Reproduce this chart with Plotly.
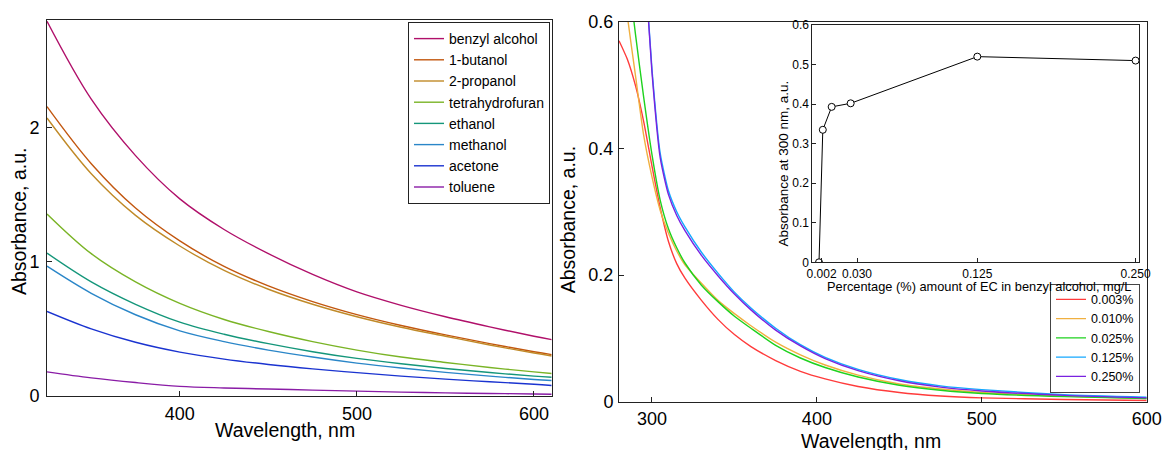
import plotly.graph_objects as go

# ---------------- Left panel: solvents ----------------
wl_solvents = [325, 350, 375, 400, 425, 450, 475, 500, 525, 550, 575, 600, 610]
solvent_names = ["benzyl alcohol", "1-butanol", "2-propanol", "tetrahydrofuran",
                 "ethanol", "methanol", "acetone", "toluene"]
benzyl_alcohol = [2.79, 2.21, 1.79, 1.468, 1.24, 1.06, 0.905, 0.775, 0.675, 0.59, 0.515, 0.445, 0.42]
butanol_1 = [2.155, 1.73, 1.40, 1.155, 0.965, 0.82, 0.703, 0.606, 0.525, 0.455, 0.39, 0.33, 0.308]
propanol_2 = [2.07, 1.655, 1.345, 1.117, 0.935, 0.795, 0.683, 0.59, 0.512, 0.445, 0.38, 0.32, 0.298]
tetrahydrofuran = [1.356, 1.06, 0.85, 0.69, 0.57, 0.48, 0.405, 0.342, 0.29, 0.25, 0.212, 0.18, 0.168]
ethanol = [1.064, 0.85, 0.683, 0.55, 0.46, 0.39, 0.33, 0.28, 0.24, 0.205, 0.175, 0.148, 0.14]
methanol = [0.967, 0.765, 0.605, 0.485, 0.405, 0.342, 0.29, 0.245, 0.208, 0.176, 0.148, 0.123, 0.115]
acetone = [0.63, 0.50, 0.40, 0.327, 0.275, 0.235, 0.202, 0.174, 0.148, 0.126, 0.106, 0.088, 0.078]
toluene = [0.18, 0.135, 0.10, 0.072, 0.06, 0.052, 0.044, 0.036, 0.029, 0.023, 0.019, 0.015, 0.013]
solvent_values = [benzyl_alcohol, butanol_1, propanol_2, tetrahydrofuran,
                  ethanol, methanol, acetone, toluene]
solvent_colors = ["#B0106A", "#C2570F", "#C08A28", "#7AB426",
                  "#14967A", "#2A86C8", "#1A33D0", "#8A1CA6"]

# ---------------- Right panel: EC concentrations ----------------
wl_ec = [280, 285, 290, 295, 300, 305, 310, 315, 320, 330, 340, 350, 360, 375,
         390, 405, 425, 450, 475, 500, 550, 600]
ec_names = ["0.003%", "0.010%", "0.025%", "0.125%", "0.250%"]
ec_003 = [0.570, 0.541, 0.499, 0.442, 0.372, 0.306, 0.253, 0.218, 0.195, 0.160, 0.130, 0.106,
          0.087, 0.065, 0.048, 0.036, 0.024, 0.0145, 0.009, 0.006, 0.0035, 0.002]
ec_010 = [0.72, 0.61, 0.515, 0.42, 0.355, 0.302, 0.266, 0.238, 0.216, 0.187, 0.160, 0.139,
          0.120, 0.094, 0.074, 0.058, 0.042, 0.028, 0.020, 0.0145, 0.009, 0.005]
ec_025 = [0.82, 0.69, 0.58, 0.48, 0.39, 0.318, 0.273, 0.243, 0.219, 0.184, 0.158, 0.135,
          0.116, 0.089, 0.069, 0.054, 0.039, 0.026, 0.018, 0.013, 0.008, 0.005]
ec_125 = [1.5, 1.2, 0.95, 0.72, 0.525, 0.392, 0.333, 0.300, 0.276, 0.236, 0.203, 0.173,
          0.148, 0.116, 0.090, 0.070, 0.051, 0.035, 0.025, 0.019, 0.011, 0.007]
ec_250 = [1.5, 1.2, 0.95, 0.72, 0.52, 0.385, 0.327, 0.294, 0.270, 0.231, 0.199, 0.170,
          0.145, 0.113, 0.088, 0.068, 0.049, 0.033, 0.023, 0.017, 0.010, 0.006]
ec_values = [ec_003, ec_010, ec_025, ec_125, ec_250]
ec_colors = ["#FF3B3B", "#F0B040", "#1ED21E", "#14A8FF", "#7A22E0"]

# ---------------- Inset ----------------
ec_percent = [0.0, 0.003, 0.010, 0.025, 0.125, 0.250]
abs_300nm = [0.0, 0.335, 0.393, 0.402, 0.520, 0.510]
inset_ticks = [0.002, 0.030, 0.125, 0.250]
inset_ticktext = ["0.002", "0.030", "0.125", "0.250"]

FONT = "Liberation Sans, Arial, sans-serif"
W, H = 1163, 450

fig = go.Figure()

for name, vals, col in zip(solvent_names, solvent_values, solvent_colors):
    fig.add_trace(go.Scatter(x=wl_solvents, y=vals, name=name, mode="lines",
                             line=dict(color=col, width=1.4, shape="spline", smoothing=1.0),
                             xaxis="x", yaxis="y", legend="legend"))

for name, vals, col in zip(ec_names, ec_values, ec_colors):
    fig.add_trace(go.Scatter(x=wl_ec, y=vals, name=name, mode="lines",
                             line=dict(color=col, width=1.4, shape="spline", smoothing=0.6),
                             xaxis="x2", yaxis="y2", legend="legend2"))

fig.add_trace(go.Scatter(x=ec_percent, y=abs_300nm, mode="lines+markers", showlegend=False,
                         line=dict(color="black", width=1),
                         marker=dict(symbol="circle", size=7, color="white",
                                     line=dict(color="black", width=1)),
                         xaxis="x3", yaxis="y3"))

axis_common = dict(showline=True, linecolor="#222", linewidth=1, mirror=True,
                   ticks="inside", tickcolor="#222", showgrid=False, zeroline=False,
                   automargin=False,
                   tickfont=dict(family=FONT, size=18, color="black"))
inset_common = dict(showline=True, linecolor="#222", linewidth=1, mirror=True,
                    ticks="inside", ticklen=4, tickcolor="#222", showgrid=False,
                    zeroline=False, automargin=False,
                    tickfont=dict(family=FONT, size=12, color="black"))


def px_x(p):
    return p / W


def px_y(p):
    return 1 - p / H


fig.update_layout(
    width=W, height=H,
    margin=dict(l=0, r=0, t=0, b=0, autoexpand=False),
    paper_bgcolor="white", plot_bgcolor="white",
    font=dict(family=FONT, color="black"),
    xaxis=dict(domain=[px_x(47), px_x(551.7)], range=[325, 610], dtick=100, tick0=0,
               anchor="y", ticklen=5, ticklabelstandoff=1, **axis_common),
    yaxis=dict(domain=[px_y(396), px_y(20)], range=[0, 2.8], dtick=1,
               anchor="x", ticklen=5, ticklabelstandoff=3, **axis_common),
    xaxis2=dict(domain=[px_x(619), px_x(1146.7)], range=[280, 600], dtick=100, tick0=0,
                anchor="y2", ticklen=5, ticklabelstandoff=1, **axis_common),
    yaxis2=dict(domain=[px_y(401.7), px_y(21.7)], range=[0, 0.6], dtick=0.2,
                anchor="x2", ticklen=5, ticklabelstandoff=1, **axis_common),
    xaxis3=dict(domain=[px_x(812.3), px_x(1139)], range=[-0.0053, 0.2527],
                tickvals=inset_ticks, ticktext=inset_ticktext, anchor="y3",
                ticklabelstandoff=0, **inset_common),
    yaxis3=dict(domain=[px_y(262.3), px_y(25)], range=[0, 0.6], dtick=0.1, anchor="x3",
                ticklabelstandoff=0, **inset_common),
    legend=dict(x=px_x(550), xanchor="right", y=px_y(22), yanchor="top",
                bgcolor="white", bordercolor="#222", borderwidth=1,
                font=dict(family=FONT, size=14, color="black"), tracegroupgap=0,
                itemwidth=30),
    legend2=dict(x=px_x(1140), xanchor="right", y=px_y(392.7), yanchor="bottom",
                 bgcolor="white", bordercolor="#444", borderwidth=1,
                 font=dict(family=FONT, size=12.5, color="black"), tracegroupgap=0,
                 itemwidth=30),
    showlegend=True,
)

titles = [
    ("Absorbance, a.u.", 18.3, 221.7, -90, 19.5),
    ("Wavelength, nm", 285, 430, 0, 19.5),
    ("Absorbance, a.u.", 568.3, 220, -90, 19.5),
    ("Wavelength, nm", 871, 441, 0, 19.5),
    ("Absorbance at 300 nm, a.u.", 783.3, 163.3, -90, 13.5),
    ("Percentage (%) amount of EC in benzyl alcohol, mg/L", 979, 286, 0, 12.8),
]
for text, xp, yp, ang, size in titles:
    fig.add_annotation(text=text, x=px_x(xp), y=px_y(yp), xref="paper", yref="paper",
                       xanchor="center", yanchor="middle", showarrow=False, textangle=ang,
                       font=dict(family=FONT, size=size, color="black"))

# remove the default page margin so the figure sits at the window's top-left corner
fig.write_html("out.html",
               config={"displayModeBar": False},
               post_script="document.body.style.margin='0';document.body.style.overflow='hidden';")
